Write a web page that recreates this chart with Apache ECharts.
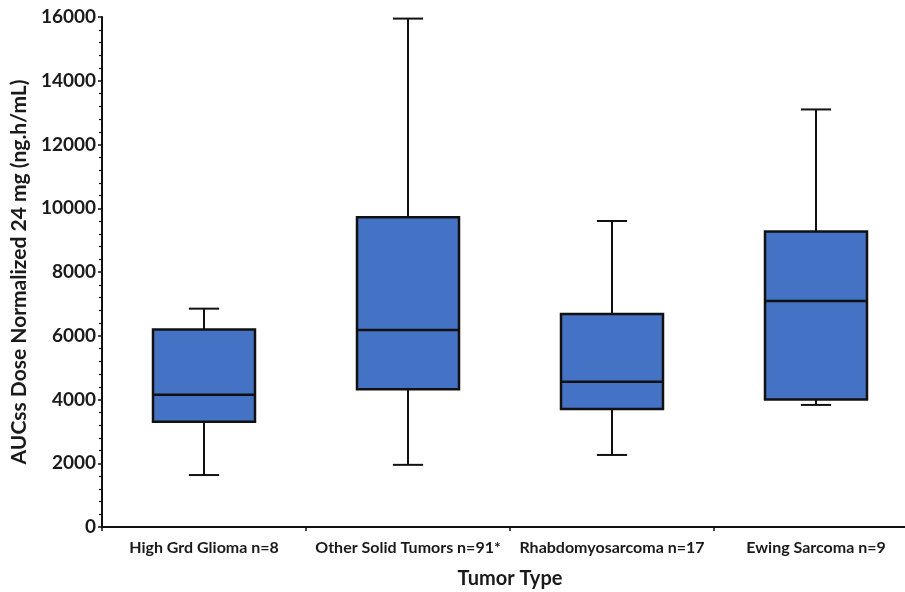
<!DOCTYPE html>
<html>
<head>
<meta charset="utf-8">
<script src="https://cdn.jsdelivr.net/npm/echarts@6/dist/echarts.min.js"></script>
<style>
  html, body { margin: 0; padding: 0; background: #ffffff; }
  #chart { width: 905px; height: 592px; }
</style>
</head>
<body>
<div id="chart"></div>
<script>
// Tumor groups on the x axis
const categories = [
  'High Grd Glioma n=8',
  'Other Solid Tumors n=91*',
  'Rhabdomyosarcoma n=17',
  'Ewing Sarcoma n=9'
];
// Box-and-whisker statistics per group (ng.h/mL)
const whiskerLow  = [1630, 1950, 2260, 3830];
const q1          = [3300, 4320, 3700, 4000];
const median      = [4150, 6180, 4560, 7090];
const q3          = [6200, 9720, 6680, 9270];
const whiskerHigh = [6850, 15950, 9600, 13100];

const yTicks = { min: 0, max: 16000, interval: 2000 };

const FONT = 'Lato';
const TEXT = '#1a1a1a';

const chart = echarts.init(document.getElementById('chart'), null, { renderer: 'canvas' });

const boxData = categories.map((c, i) => [i, whiskerLow[i], q1[i], median[i], q3[i], whiskerHigh[i]]);

function renderBox(params, api) {
  const idx = api.value(0);
  const band = api.size([1, 0])[0];
  const boxW = band * 0.5;
  const capW = band * 0.148;
  const pLow = api.coord([idx, api.value(1)]);
  const pQ1 = api.coord([idx, api.value(2)]);
  const pMed = api.coord([idx, api.value(3)]);
  const pQ3 = api.coord([idx, api.value(4)]);
  const pHigh = api.coord([idx, api.value(5)]);
  const cx = pLow[0];
  const line = { stroke: '#111', lineWidth: 2 };
  return {
    type: 'group',
    children: [
      { type: 'line', shape: { x1: cx, y1: pHigh[1], x2: cx, y2: pQ3[1] }, style: line },
      { type: 'line', shape: { x1: cx, y1: pQ1[1], x2: cx, y2: pLow[1] }, style: line },
      { type: 'line', shape: { x1: cx - capW / 2, y1: pHigh[1], x2: cx + capW / 2, y2: pHigh[1] }, style: line },
      { type: 'line', shape: { x1: cx - capW / 2, y1: pLow[1], x2: cx + capW / 2, y2: pLow[1] }, style: line },
      { type: 'rect', shape: { x: cx - boxW / 2, y: pQ3[1], width: boxW, height: pQ1[1] - pQ3[1] },
        style: { fill: '#4472C4', stroke: '#111', lineWidth: 2.5 } },
      { type: 'line', shape: { x1: cx - boxW / 2, y1: pMed[1], x2: cx + boxW / 2, y2: pMed[1] },
        style: { stroke: '#111', lineWidth: 2.5 } }
    ]
  };
}

chart.setOption({
  animation: false,
  backgroundColor: '#ffffff',
  grid: { left: 102, top: 17, width: 816, height: 510, containLabel: false, outerBoundsMode: 'none' },
  xAxis: {
    type: 'category',
    data: categories,
    boundaryGap: true,
    name: 'Tumor Type',
    nameLocation: 'middle',
    nameGap: 42,
    nameTextStyle: { fontFamily: FONT, fontSize: 20, color: TEXT, fontWeight: 'bold' },
    axisLine: { lineStyle: { color: '#111', width: 2 } },
    axisTick: { show: true, length: 4, lineStyle: { color: '#111', width: 1.5 } },
    axisLabel: { fontFamily: FONT, fontWeight: 'bold', fontSize: 16, color: TEXT, margin: 13, interval: 0 },
    splitLine: { show: false }
  },
  yAxis: {
    type: 'value',
    min: yTicks.min,
    max: yTicks.max,
    interval: yTicks.interval,
    name: 'AUCss Dose Normalized 24 mg (ng.h/mL)',
    nameLocation: 'middle',
    nameRotate: 90,
    nameGap: 70,
    nameTextStyle: { fontFamily: FONT, fontSize: 21, color: TEXT, fontWeight: 'bold' },
    axisLine: { show: true, lineStyle: { color: '#111', width: 2 } },
    axisTick: { show: true, length: 4, lineStyle: { color: '#111', width: 1.5 } },
    minorTick: { show: true, splitNumber: 5, length: 3, lineStyle: { color: '#111', width: 1.2 } },
    axisLabel: { fontFamily: FONT, fontWeight: 'bold', fontSize: 19, color: TEXT, margin: 6,
      formatter: v => String(v) },
    splitLine: { show: false }
  },
  series: [{
    type: 'custom',
    renderItem: renderBox,
    encode: { x: 0, y: [1, 2, 3, 4, 5] },
    data: boxData,
    clip: false
  }]
});
</script>
</body>
</html>
